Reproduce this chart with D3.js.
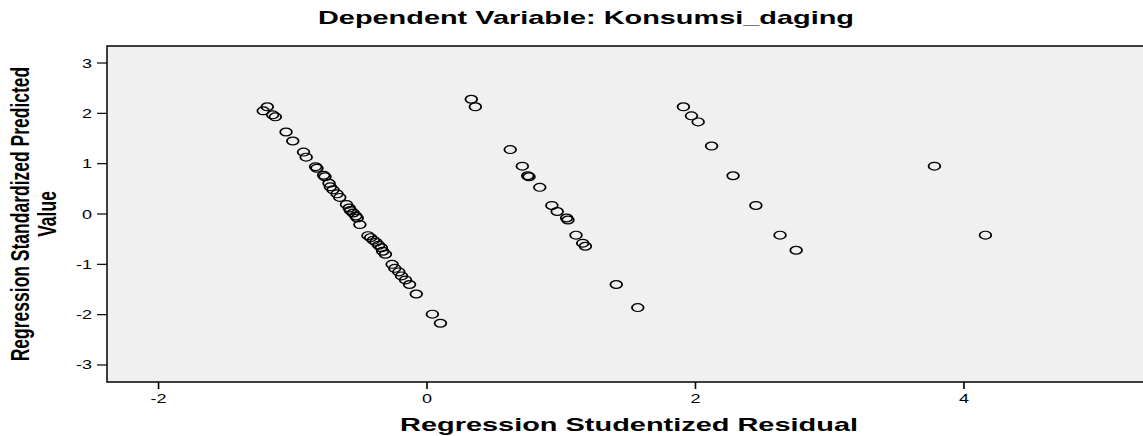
<!DOCTYPE html>
<html>
<meta charset="utf-8">
<style>
body { margin: 0; background: #fff; }
text { font-family: Arial, "Liberation Sans", sans-serif; fill: #000; }
</style>
<body>
<script src="https://d3js.org/d3.v7.min.js"></script>
<script>
// studentized residual (x) and standardized predicted value (y)
var residual = [
  -1.22, -1.19, -1.15, -1.13, -1.05, -1.00, -0.92, -0.90, -0.83, -0.82,
  -0.77, -0.76, -0.73, -0.72, -0.70, -0.67, -0.65, -0.60, -0.58, -0.57,
  -0.55, -0.53, -0.52, -0.50, -0.44, -0.42, -0.40, -0.38, -0.36, -0.34,
  -0.33, -0.31, -0.26, -0.24, -0.21, -0.19, -0.16, -0.13, -0.08, 0.04, 0.10,
  0.33, 0.36, 0.62, 0.71, 0.75, 0.76, 0.84, 0.93, 0.97, 1.04, 1.05,
  1.11, 1.16, 1.18, 1.41, 1.57,
  1.91, 1.97, 2.02, 2.12, 2.28, 2.45, 2.63, 2.75,
  3.78, 4.16
];
var predicted = [
  2.05, 2.13, 1.97, 1.93, 1.63, 1.45, 1.23, 1.13, 0.94, 0.91,
  0.77, 0.74, 0.61, 0.54, 0.48, 0.40, 0.33, 0.19, 0.12, 0.07,
  0.02, -0.04, -0.08, -0.21, -0.43, -0.47, -0.52, -0.56, -0.62, -0.67,
  -0.74, -0.80, -1.00, -1.08, -1.15, -1.23, -1.31, -1.40, -1.59, -1.99, -2.17,
  2.28, 2.13, 1.28, 0.95, 0.76, 0.74, 0.53, 0.17, 0.05, -0.08, -0.12,
  -0.42, -0.58, -0.64, -1.40, -1.86,
  2.13, 1.95, 1.83, 1.35, 0.76, 0.17, -0.42, -0.72,
  0.95, -0.42
];
var xTicks = [-2, 0, 2, 4];
var yTicks = [-3, -2, -1, 0, 1, 2, 3];

var titleText = "Dependent Variable: Konsumsi_daging";
var xTitle = "Regression Studentized Residual";
var yTitle = ["Regression Standardized Predicted", "Value"];

var width = 1143, height = 436;
var sx = 1.5; // picture is stretched horizontally

var svg = d3.select("body").append("svg")
    .attr("width", width)
    .attr("height", height);

var pLeft = 107, pRight = 1150, pTop = 46, pBottom = 382;

var x = d3.scaleLinear().domain([-2.384, 5.386]).range([pLeft, pRight]);
var y = d3.scaleLinear().domain([-3.338, 3.338]).range([pBottom, pTop]);

// plot background
svg.append("rect")
    .attr("x", pLeft).attr("y", pTop)
    .attr("width", pRight - pLeft).attr("height", pBottom - pTop)
    .style("fill", "#f0f0f0")
    .style("stroke", "#000")
    .style("stroke-width", 1.5);

// y axis
svg.selectAll(".ytick")
  .data(yTicks)
  .enter().append("line")
    .attr("x1", pLeft - 10).attr("x2", pLeft)
    .attr("y1", function(d) { return y(d); })
    .attr("y2", function(d) { return y(d); })
    .style("stroke", "#000")
    .style("stroke-width", 1.2);

svg.selectAll(".ylab")
  .data(yTicks)
  .enter().append("text")
    .attr("transform", function(d) { return "translate(92," + (y(d) + 4.5) + ") scale(" + sx + ",1)"; })
    .attr("text-anchor", "end")
    .style("font-size", "12px")
    .text(function(d) { return d; });

// x axis
svg.selectAll(".xtick")
  .data(xTicks)
  .enter().append("line")
    .attr("x1", function(d) { return x(d); })
    .attr("x2", function(d) { return x(d); })
    .attr("y1", pBottom).attr("y2", pBottom + 7)
    .style("stroke", "#000")
    .style("stroke-width", 1.6);

svg.selectAll(".xlab")
  .data(xTicks)
  .enter().append("text")
    .attr("transform", function(d) { return "translate(" + x(d) + ",403) scale(" + sx + ",1)"; })
    .attr("text-anchor", "middle")
    .style("font-size", "12px")
    .text(function(d) { return d; });

// points
var pts = residual.map(function(r, i) { return {r: r, p: predicted[i]}; });
svg.selectAll(".pt")
  .data(pts)
  .enter().append("circle")
    .attr("r", 3.9)
    .attr("transform", function(d) { return "translate(" + x(d.r) + "," + y(d.p) + ") scale(" + sx + ",1)"; })
    .style("fill", "none")
    .style("stroke", "#000")
    .style("stroke-width", 1.2);

// titles
svg.append("text")
    .attr("transform", "translate(318,24) scale(" + sx + ",1)")
    .attr("textLength", 536 / sx)
    .attr("lengthAdjust", "spacingAndGlyphs")
    .style("font-size", "18px")
    .style("font-weight", "bold")
    .text(titleText);

svg.append("text")
    .attr("transform", "translate(400,431) scale(" + sx + ",1)")
    .attr("textLength", 458 / sx)
    .attr("lengthAdjust", "spacingAndGlyphs")
    .style("font-size", "18px")
    .style("font-weight", "bold")
    .text(xTitle);

svg.selectAll(".ytitle")
  .data(yTitle)
  .enter().append("text")
    .attr("transform", function(d, i) { return "translate(" + (29 + i * 27) + "," + 214 + ") scale(" + sx + ",1) rotate(-90)"; })
    .attr("text-anchor", "middle")
    .style("font-size", "17.5px")
    .style("font-weight", "bold")
    .text(function(d) { return d; });
</script>
</body>
</html>
